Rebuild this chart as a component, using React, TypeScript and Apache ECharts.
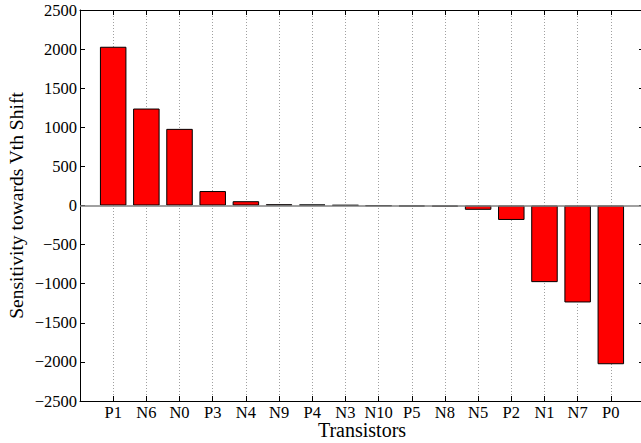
import React, { useEffect, useRef } from "react";
import * as echarts from "echarts";

const categories = ["P1", "N6", "N0", "P3", "N4", "N9", "P4", "N3", "N10", "P5", "N8", "N5", "P2", "N1", "N7", "P0"];
const sensitivity = [2030, 1240, 980, 185, 55, 15, 12, 5, -5, -12, -15, -55, -185, -980, -1240, -2030];
const yTicks = { min: -2500, max: 2500, step: 500 };

const FONT = "Liberation Serif";

export default function App() {
  const ref = useRef<HTMLDivElement>(null);
  useEffect(() => {
    if (!ref.current) return;
    document.body.style.margin = "0";
    document.body.style.overflow = "hidden";
    const chart = echarts.init(ref.current, null, { renderer: "svg" });
    const n = categories.length;
    const fmtY = (v: number) => (v < 0 ? "\u2212" + Math.abs(v) : String(v));
    const catLabel = (v: number) => {
      const i = Math.round(v) - 1;
      return i >= 0 && i < n ? categories[i] : "";
    };
    chart.setOption({
      animation: false,
      backgroundColor: "#fff",
      grid: { left: 80, top: 10, width: 564, height: 391, containLabel: false, outerBoundsMode: "none" },
      xAxis: [
        {
          type: "value",
          min: 0,
          max: n + 1,
          interval: 1,
          position: "bottom",
          name: "Transistors",
          nameLocation: "middle",
          nameGap: 21,
          nameMoveOverlap: false,
          nameTextStyle: { fontFamily: FONT, fontSize: 20, color: "#000", verticalAlign: "top", lineHeight: 16 },
          axisLine: { show: true, onZero: false, lineStyle: { color: "#000", width: 1 } },
          axisTick: { show: true, inside: true, length: 5, lineStyle: { color: "#000" } },
          axisLabel: { formatter: catLabel, fontFamily: FONT, fontSize: 16.5, lineHeight: 15, color: "#000", margin: 4, showMinLabel: true, showMaxLabel: true },
          splitLine: { show: true, lineStyle: { color: "#a0a0a0", type: [1, 2], width: 1 } },
        },
        {
          type: "value",
          min: 0,
          max: n + 1,
          interval: 1,
          position: "top",
          axisLine: { show: true, onZero: false, lineStyle: { color: "#000", width: 1 } },
          axisTick: { show: true, inside: true, length: 5, lineStyle: { color: "#000" } },
          axisLabel: { show: false },
          splitLine: { show: false },
        },
      ],
      yAxis: [
        {
          type: "value",
          min: yTicks.min,
          max: yTicks.max,
          interval: yTicks.step,
          position: "left",
          name: "Sensitivity towards Vth Shift",
          nameLocation: "middle",
          nameRotate: 90,
          nameGap: 54,
          nameMoveOverlap: false,
          nameTextStyle: { fontFamily: FONT, fontSize: 19.5, lineHeight: 19.5, verticalAlign: "bottom", color: "#000" },
          axisLine: { show: true, onZero: false, lineStyle: { color: "#000", width: 1 } },
          axisTick: { show: true, inside: true, length: 5, lineStyle: { color: "#000" } },
          axisLabel: { formatter: fmtY, fontFamily: FONT, fontSize: 16.5, color: "#000", margin: 3 },
          splitLine: { show: false },
        },
        {
          type: "value",
          min: yTicks.min,
          max: yTicks.max,
          interval: yTicks.step,
          position: "right",
          axisLine: { show: true, onZero: false, lineStyle: { color: "#000", width: 1 } },
          axisTick: { show: true, inside: true, length: 5, lineStyle: { color: "#000" } },
          axisLabel: { show: false },
          splitLine: { show: false },
        },
      ],
      series: [
        {
          type: "bar",
          xAxisIndex: 0,
          yAxisIndex: 0,
          barWidth: 26.5,
          data: sensitivity.map((v, i) => [i + 1, v]),
          itemStyle: { color: "#ff0000", borderColor: "#000", borderWidth: 1 },
          markLine: {
            silent: true,
            symbol: "none",
            label: { show: false },
            lineStyle: { color: "#808080", type: "solid", width: 1.5 },
            data: [{ yAxis: 0 }],
          },
          z: 2,
        },
      ],
    });
    return () => chart.dispose();
  }, []);
  return <div ref={ref} style={{ position: "absolute", left: 0, top: 0, width: 641, height: 443 }} />;
}
